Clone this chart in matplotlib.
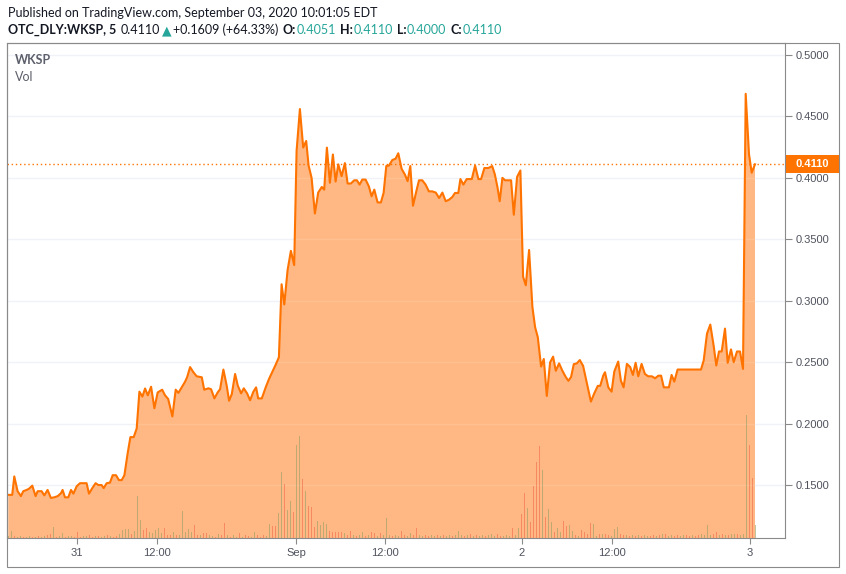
import matplotlib
matplotlib.use('Agg')
import matplotlib.pyplot as plt
from matplotlib.patches import Rectangle
import matplotlib.transforms as mtrans

# ---------------- data ----------------
bar_t = [0.0, 1.3, 2.0, 3.1, 4.2, 5.0, 6.1, 6.9, 8.0, 9.1, 9.8, 11.1, 12.0, 13.1, 14.2, 15.3,
         16.5, 17.6, 18.1, 18.9, 20.0, 20.9, 21.7, 22.8, 23.9, 25.0, 26.1, 26.9, 28.0, 29.1,
         30.0, 31.1, 31.8, 32.8, 33.9, 34.8, 35.9, 36.9, 37.8, 38.7, 39.8, 40.7, 41.8, 42.8,
         43.7, 44.7, 45.6, 46.5, 47.6, 48.7, 49.8, 51.3, 52.2, 53.3, 54.7, 55.8, 56.7, 57.8,
         58.9, 59.6, 60.6, 61.7, 62.8, 64.5, 65.3, 66.7, 67.6, 68.7, 69.8, 70.6, 71.7, 72.8,
         73.6, 74.5, 75.6, 76.5, 77.6, 78.5, 79.6, 80.6, 81.7, 82.6, 83.3, 84.5, 85.8, 86.9,
         88.0, 89.1, 90.2, 91.1, 92.0, 93.1, 94.2, 95.3, 96.1, 97.2, 98.3, 99.3, 100.1, 101.1,
         102.2, 103.3, 104.5, 105.3, 106.2, 107.2, 108.2, 109.1, 110.0, 111.1, 112.2, 113.1,
         114.2, 115.3, 116.2, 117.1, 118.0, 119.1, 120.2, 121.1, 122.0, 123.1, 124.2, 125.1,
         126.0, 126.9, 128.0, 129.1, 130.0, 131.1, 132.2, 133.1, 134.0, 134.9, 136.0, 136.9,
         138.0, 139.1, 140.2, 141.3, 142.5, 143.6, 144.7, 145.8, 146.9, 148.0, 148.9, 150.0,
         150.7, 151.7, 152.8, 154.5, 155.6, 156.7, 157.6, 158.7, 160.0, 161.3, 162.2, 163.1,
         163.8, 164.7, 165.6, 166.7, 167.6, 168.5, 169.6, 170.7, 171.6, 172.5, 173.6, 174.7,
         175.6, 176.5, 177.6, 178.5, 179.5, 180.6, 181.6, 182.5, 183.6, 184.7, 185.8, 186.7,
         187.6, 188.5, 189.5, 190.5, 191.6, 192.7, 194.2, 195.3, 196.5, 197.3, 198.3, 198.9,
         200.0, 201.1, 202.0, 203.3, 204.2, 205.1, 206.2, 207.3, 208.2, 209.1, 210.0, 211.1,
         212.2, 213.3, 214.5, 215.6, 216.7, 217.6, 218.5, 219.6, 220.2, 221.1, 222.0, 223.1,
         224.2, 225.6, 227.3, 229.5, 230.9, 231.8, 232.9, 234.0, 235.1, 236.0, 236.9, 237.8,
         238.9, 239.8, 240.9, 241.8, 242.9, 243.9, 244.9, 245.8, 246.9, 247.8, 248.9]

price = [0.142, 0.142, 0.157, 0.145, 0.141, 0.145, 0.146, 0.147, 0.1495, 0.141, 0.145, 0.145,
         0.1416, 0.146, 0.1395, 0.140, 0.141, 0.1435, 0.146, 0.140, 0.140, 0.146, 0.143, 0.149,
         0.1515, 0.1515, 0.1515, 0.143, 0.1475, 0.1515, 0.150, 0.150, 0.1475, 0.1515, 0.152,
         0.158, 0.158, 0.154, 0.154, 0.158, 0.176, 0.189, 0.189, 0.196, 0.226, 0.222, 0.2286,
         0.223, 0.230, 0.2125, 0.2254, 0.2276, 0.2232, 0.220, 0.2058, 0.2276, 0.225, 0.2295,
         0.234, 0.2377, 0.246, 0.2418, 0.2385, 0.2377, 0.2276, 0.2287, 0.228, 0.2205, 0.2254,
         0.228, 0.244, 0.2309, 0.2186, 0.224, 0.2404, 0.2309, 0.2246, 0.2287, 0.2246, 0.219,
         0.226, 0.2295, 0.2205, 0.2205, 0.2295, 0.2363, 0.242, 0.2478, 0.254, 0.3134, 0.297,
         0.325, 0.3406, 0.329, 0.422, 0.456, 0.4247, 0.430, 0.410, 0.400, 0.371, 0.388, 0.3926,
         0.3904, 0.4246, 0.396, 0.419, 0.397, 0.411, 0.4014, 0.412, 0.3954, 0.3954, 0.398,
         0.398, 0.3945, 0.3986, 0.3986, 0.393, 0.385, 0.3904, 0.380, 0.380, 0.3877, 0.4096,
         0.410, 0.4145, 0.4156, 0.420, 0.4074, 0.4027, 0.3973, 0.4096, 0.3773, 0.389, 0.398,
         0.398, 0.3945, 0.389, 0.389, 0.388, 0.3836, 0.388, 0.381, 0.3822, 0.3844, 0.3877,
         0.3877, 0.399, 0.3945, 0.399, 0.399, 0.410, 0.399, 0.399, 0.408, 0.408, 0.4096, 0.4027,
         0.3918, 0.381, 0.400, 0.398, 0.398, 0.398, 0.370, 0.4008, 0.406, 0.3195, 0.3126,
         0.3413, 0.295, 0.2785, 0.2703, 0.2464, 0.2526, 0.2225, 0.2498, 0.2545, 0.243, 0.249,
         0.243, 0.238, 0.2348, 0.238, 0.2484, 0.249, 0.2517, 0.247, 0.2348, 0.2179, 0.2245,
         0.2307, 0.2307, 0.239, 0.2418, 0.2295, 0.226, 0.2424, 0.2505, 0.235, 0.2295, 0.2486,
         0.246, 0.2396, 0.2495, 0.2385, 0.2486, 0.2404, 0.2385, 0.2385, 0.2369, 0.239, 0.239,
         0.2295, 0.2295, 0.2295, 0.2396, 0.2342, 0.244, 0.244, 0.244, 0.244, 0.244, 0.244,
         0.2514, 0.2732, 0.2806, 0.2637, 0.2473, 0.2587, 0.2587, 0.2773, 0.2495, 0.2604, 0.250,
         0.2587, 0.2587, 0.2445, 0.4684, 0.4193, 0.4042, 0.4110]

volume = [6, 21, 6, 4, 6, 4, 4, 6, 4, 4,
          6, 4, 6, 9, 12, 34, 4, 6, 14, 4,
          6, 6, 4, 19, 4, 6, 6, 9, 4, 6,
          6, 4, 6, 9, 6, 4, 6, 11, 24, 28,
          28, 12, 21, 126, 54, 24, 31, 19, 16, 24,
          31, 14, 31, 9, 9, 19, 9, 9, 81, 19,
          27, 17, 39, 9, 9, 14, 14, 9, 6, 4,
          12, 9, 46, 9, 4, 9, 4, 14, 4, 9,
          6, 4, 17, 9, 4, 9, 6, 42, 36, 36,
          74, 199, 162, 84, 112, 79, 279, 306, 177, 142,
          96, 94, 34, 52, 39, 49, 42, 21, 18, 18,
          18, 18, 14, 9, 21, 9, 6, 9, 18, 6,
          9, 18, 14, 6, 14, 9, 61, 9, 6, 9,
          6, 21, 9, 6, 14, 9, 31, 9, 6, 9,
          6, 9, 6, 9, 6, 9, 6, 9, 6, 9,
          21, 9, 6, 9, 12, 6, 9, 6, 9, 6,
          9, 12, 6, 12, 6, 6, 9, 6, 29, 9,
          31, 72, 134, 89, 48, 156, 228, 276, 204, 62,
          87, 48, 18, 31, 18, 51, 36, 39, 22, 9,
          6, 24, 18, 12, 44, 41, 6, 12, 12, 12,
          9, 6, 26, 33, 12, 9, 9, 6, 9, 6,
          9, 6, 9, 6, 6, 9, 6, 9, 12, 12,
          6, 9, 6, 9, 6, 9, 9, 6, 9, 6,
          9, 12, 9, 39, 9, 12, 18, 9, 12, 9,
          9, 12, 12, 12, 9, 12, 369, 279, 181, 39]

volume_dir = ("uuduuduudu" "duudduduud" "uuddduuddu" "duududduuu" "uduuudduuu"
              "uuddduduuu" "uuddudduud" "udduduudud" "duuddduudd" "uuduuduudu"
              "ddduuuuddd" "ddudduduud" "udduduuudu" "udduudduud" "duududuudu"
              "uudududuud" "uuudduuudu" "udduddddud" "uuduudduud" "udddduudud"
              "duuuddudud" "uduuddudud" "uudduuddud" "duuuuddudu" "duuduuuddu")

time_tick_pos = [22.8, 49.7, 95.9, 125.6, 171.2, 201.1, 247.2]
time_tick_lab = ['31', '12:00', 'Sep', '12:00', '2', '12:00', '3']
price_ticks = [0.15, 0.20, 0.25, 0.30, 0.35, 0.40, 0.45, 0.50]
last_price = 0.4110

header_line1 = "Published on TradingView.com, September 03, 2020 10:01:05 EDT"
symbol_txt = "OTC_DLY:WKSP, 5"
last_txt = "0.4110"
change_txt = "+0.1609 (+64.33%)"
ohlc = [("O:", "0.4051"), ("H:", "0.4110"), ("L:", "0.4000"), ("C:", "0.4110")]

# ---------------- style ----------------
LINE = '#ff7300'
FILL = '#ffb883'
BORDER = '#8a8a8a'
AXTXT = '#50535e'
DARK = '#131722'
TEAL = '#26a69a'
UPV = (150/255, 160/255, 100/255, 0.6)
DNV = (240/255, 100/255, 70/255, 0.55)

W, H = 846, 574
fig = plt.figure(figsize=(W/100, H/100), dpi=100)
fig.patch.set_facecolor('white')

L, R, T, B = 7, 785, 43.3, 538
rect = [L/W, 1 - B/H, (R - L)/W, (B - T)/H]
ax = fig.add_axes(rect)
ax.set_xlim(-0.43, 258.9)
ax.set_ylim(0.1069, 0.5095)

ax.fill_between(bar_t, price, 0, color=FILL, lw=0, zorder=2)
ax.plot(bar_t, price, color=LINE, lw=1.5, zorder=4)
ax.axhline(last_price, color=LINE, ls=(0, (1, 2)), lw=1.0, zorder=5)

for v in price_ticks:
    ax.axhline(v, color='#eef1f8', lw=1.0, zorder=1)
    ax.axhline(v, color='white', lw=1.0, alpha=0.12, zorder=3)

ax.yaxis.tick_right()
ax.set_yticks(price_ticks)
ax.set_yticklabels([f"{v:.4f}" for v in price_ticks])
ax.set_xticks(time_tick_pos)
ax.set_xticklabels(time_tick_lab)
ax.tick_params(axis='y', direction='out', length=5, width=0.8, color=BORDER,
               labelsize=8, labelcolor=AXTXT, pad=3)
ax.tick_params(axis='x', direction='out', length=4, width=0.8, color=BORDER,
               labelsize=8, labelcolor=AXTXT, pad=3)
for lab in ax.get_xticklabels() + ax.get_yticklabels():
    lab.set_fontfamily('Liberation Sans')
for s in ax.spines.values():
    s.set_color(BORDER)
    s.set_linewidth(0.8)

# volume overlay
ax2 = fig.add_axes(rect, sharex=ax)
ax2.patch.set_visible(False)
ax2.axis('off')
ax2.set_ylim(0, 1488)
ax2.bar(range(len(volume)), volume, width=0.42,
        color=[UPV if d == 'u' else DNV for d in volume_dir], lw=0)

# outer frame
fig.add_artist(Rectangle((L/W, 1 - 567/H), (839 - L)/W, (567 - T)/H, fill=False,
                         ec=BORDER, lw=0.8, transform=fig.transFigure))

# last price label on the axis
trans = mtrans.blended_transform_factory(ax.transAxes, ax.transData)
pw = R - L
ph = (B - T) / (0.5095 - 0.1069)
ax.add_patch(Rectangle((1 + 0.5/pw, last_price - 9/ph), 53/pw, 18/ph, transform=trans,
                       color=LINE, lw=0, clip_on=False, zorder=10))
ax.text(1 + 27/pw, last_price, f"{last_price:.4f}", transform=trans, ha='center',
        va='center', color='white', fontweight='bold', fontsize=8,
        family='Liberation Sans', clip_on=False, zorder=11)

# pane labels
fig.text(15/W, 1 - 64/H, "WKSP", color='#5d606b', fontweight='bold', fontsize=9,
         family='Lato', va='baseline')
fig.text(15/W, 1 - 81/H, "Vol", color='#5d606b', fontsize=9, family='Lato', va='baseline')

# header
renderer = fig.canvas.get_renderer()
fam = ['Lato', 'DejaVu Sans']
t1 = fig.text(8/W, 1 - 17/H, header_line1, color=DARK, fontsize=10, family=fam, va='baseline')
wd = t1.get_window_extent(renderer).width
fs = 10 * 369 / wd
t1.set_fontsize(fs)

row2 = [(symbol_txt, DARK, 'bold', 4), (last_txt, DARK, 'normal', 2), ("▲", TEAL, 'normal', 2),
        (change_txt, DARK, 'normal', 4)]
for k, v in ohlc:
    row2 += [(k, DARK, 'bold', 0.5), (v, TEAL, 'normal', 4)]
row2[-1] = (row2[-1][0], row2[-1][1], row2[-1][2], 0)

def draw_row(size):
    arts = []
    x = 8
    for txt, col, wt, gap in row2:
        t = fig.text(x/W, 1 - 34/H, txt, color=col, fontsize=size, family=fam,
                     fontweight=wt, va='baseline')
        arts.append(t)
        x = t.get_window_extent(renderer).x1 + gap
    return arts, x

arts, xend = draw_row(fs)
gaps = sum(g for *_, g in row2)
fs2 = fs * (503 - 8 - gaps) / (xend - 8 - gaps)
if fs2 < fs:
    for a in arts:
        a.remove()
    draw_row(0.5 * (fs + fs2))

fig.savefig('out.png', dpi=100, facecolor='white')
